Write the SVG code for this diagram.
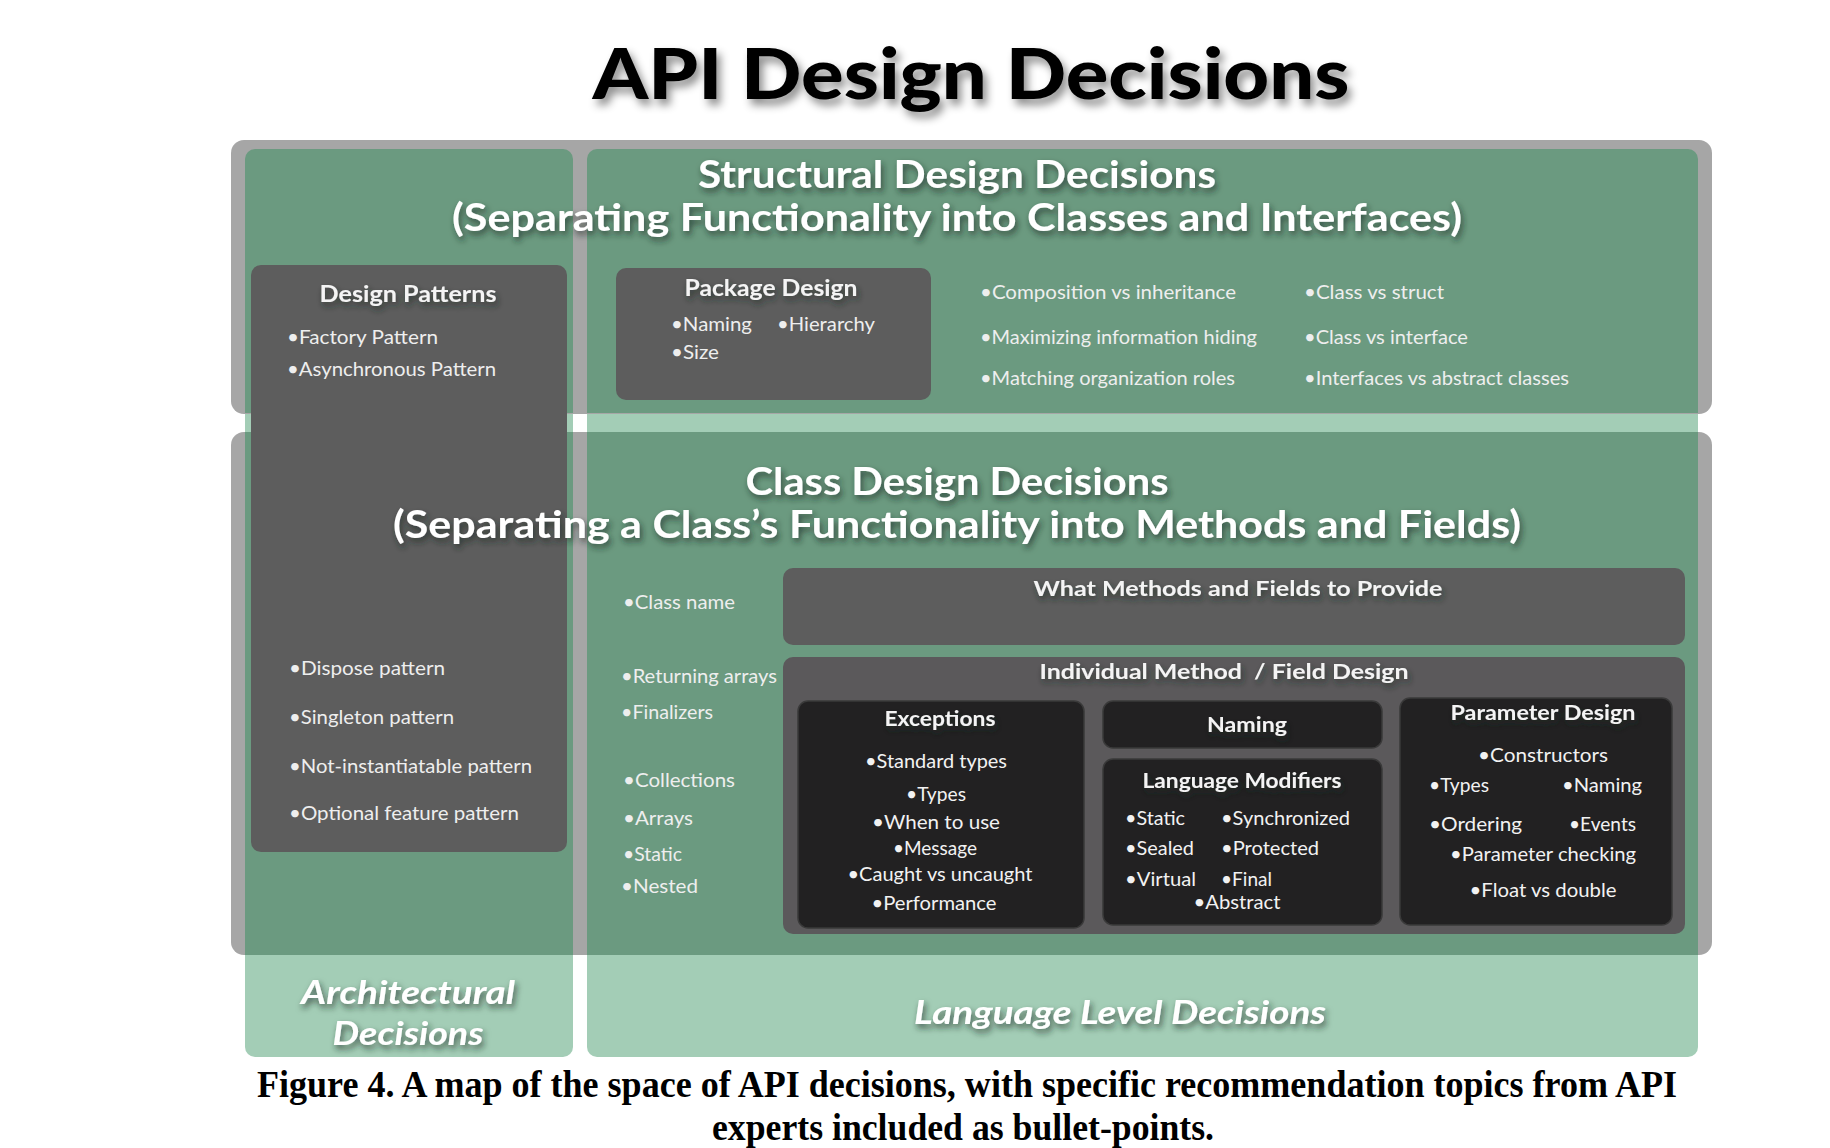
<svg xmlns="http://www.w3.org/2000/svg" width="1830" height="1148" viewBox="0 0 1830 1148">
<defs>
<filter id="tsh" x="-5%" y="-30%" width="115%" height="180%"><feDropShadow dx="4" dy="6" stdDeviation="4" flood-color="#000" flood-opacity="0.45"/></filter>
<filter id="sh" x="-10%" y="-40%" width="125%" height="200%"><feDropShadow dx="2" dy="4" stdDeviation="3" flood-color="#1a2a20" flood-opacity="0.7"/></filter>
<style>
.band{fill:#a6a6a6}
.col{fill:#a3cdb6}
.mid{fill:#6b9a80}
.dbox{fill:#5d5d5d}
.ibox{fill:#5b595b}
.kbox{fill:#222122;stroke:#3a3a3a;stroke-width:1.5}
.h{font-family:Lato,"Open Sans",sans-serif;font-weight:700;fill:#ffffff;filter:url(#sh)}
.t{font-family:Lato,"Open Sans",sans-serif;font-weight:700;fill:#f4f4f4;filter:url(#sh)}
.b{font-family:Lato,"Open Sans",sans-serif;font-weight:400;fill:#eeeeee;font-size:19px}
.k{font-family:Lato,"Open Sans",sans-serif;font-weight:400;fill:#f2f2f2;font-size:20px}
.i{font-family:Lato,"Open Sans",sans-serif;font-weight:700;font-style:italic;fill:#ffffff;font-size:33px;filter:url(#sh)}
.c{font-family:"Liberation Serif","Times New Roman",serif;font-weight:700;fill:#000;font-size:38px}
</style>
</defs>
<rect width="1830" height="1148" fill="#ffffff"/>

<g id="title">
<text x="971" y="99" text-anchor="middle" font-family="Lato, 'Open Sans', sans-serif" font-weight="900" font-size="70" fill="#000" filter="url(#tsh)" textLength="757" lengthAdjust="spacingAndGlyphs">API Design Decisions</text>
</g>

<g id="background">
<rect id="col-arch" class="col" x="245" y="149" width="328" height="908" rx="10"/>
<rect id="col-lang" class="col" x="587" y="149" width="1111" height="908" rx="10"/>
<rect class="band" x="231" y="140" width="1481" height="274" rx="13"/>
<rect class="band" x="231" y="432" width="1481" height="523" rx="13"/>
<path class="mid" d="M255,149 H563 A10,10 0 0 1 573,159 V413 H245 V159 A10,10 0 0 1 255,149 Z"/>
<path class="mid" d="M597,149 H1688 A10,10 0 0 1 1698,159 V413 H587 V159 A10,10 0 0 1 597,149 Z"/>
<rect class="mid" x="245" y="432" width="328" height="523"/>
<rect class="mid" x="587" y="432" width="1111" height="523"/>
</g>

<g id="structural">
<text class="h" x="957" y="188" text-anchor="middle" font-size="38" textLength="518" lengthAdjust="spacingAndGlyphs">Structural Design Decisions</text>
<text class="h" x="957" y="231" text-anchor="middle" font-size="38" textLength="1010" lengthAdjust="spacingAndGlyphs">(Separating Functionality into Classes and Interfaces)</text>
<text class="b" x="980" y="299" textLength="256" lengthAdjust="spacingAndGlyphs">•Composition vs inheritance</text>
<text class="b" x="980" y="344" textLength="277" lengthAdjust="spacingAndGlyphs">•Maximizing information hiding</text>
<text class="b" x="980" y="385" textLength="255" lengthAdjust="spacingAndGlyphs">•Matching organization roles</text>
<text class="b" x="1304" y="299" textLength="140" lengthAdjust="spacingAndGlyphs">•Class vs struct</text>
<text class="b" x="1304" y="344" textLength="164" lengthAdjust="spacingAndGlyphs">•Class vs interface</text>
<text class="b" x="1304" y="385" textLength="265" lengthAdjust="spacingAndGlyphs">•Interfaces vs abstract classes</text>
</g>

<g id="design-patterns">
<rect class="dbox" x="251" y="265" width="316" height="587" rx="10"/>
<text class="t" x="408" y="302" text-anchor="middle" font-size="22" textLength="177" lengthAdjust="spacingAndGlyphs">Design Patterns</text>
<text class="b" x="287" y="344" textLength="151" lengthAdjust="spacingAndGlyphs">•Factory Pattern</text>
<text class="b" x="287" y="376" textLength="209" lengthAdjust="spacingAndGlyphs">•Asynchronous Pattern</text>
<text class="b" x="289" y="675" textLength="156" lengthAdjust="spacingAndGlyphs">•Dispose pattern</text>
<text class="b" x="289" y="724" textLength="165" lengthAdjust="spacingAndGlyphs">•Singleton pattern</text>
<text class="b" x="289" y="773" textLength="243" lengthAdjust="spacingAndGlyphs">•Not-instantiatable pattern</text>
<text class="b" x="289" y="820" textLength="230" lengthAdjust="spacingAndGlyphs">•Optional feature pattern</text>
</g>

<g id="package-design">
<rect class="dbox" x="616" y="268" width="315" height="132" rx="10"/>
<text class="t" x="771" y="296" text-anchor="middle" font-size="22" textLength="173" lengthAdjust="spacingAndGlyphs">Package Design</text>
<text class="b" x="671" y="331" textLength="81" lengthAdjust="spacingAndGlyphs">•Naming</text>
<text class="b" x="777" y="331" textLength="98" lengthAdjust="spacingAndGlyphs">•Hierarchy</text>
<text class="b" x="671" y="359" textLength="48" lengthAdjust="spacingAndGlyphs">•Size</text>
</g>

<g id="class-design">
<text class="h" x="957" y="495" text-anchor="middle" font-size="38" textLength="423" lengthAdjust="spacingAndGlyphs">Class Design Decisions</text>
<text class="h" x="957" y="538" text-anchor="middle" font-size="38" textLength="1128" lengthAdjust="spacingAndGlyphs">(Separating a Class’s Functionality into Methods and Fields)</text>
<text class="b" x="623" y="609" textLength="112" lengthAdjust="spacingAndGlyphs">•Class name</text>
<text class="b" x="621" y="683" textLength="156" lengthAdjust="spacingAndGlyphs">•Returning arrays</text>
<text class="b" x="621" y="719" textLength="92" lengthAdjust="spacingAndGlyphs">•Finalizers</text>
<text class="b" x="623" y="787" textLength="112" lengthAdjust="spacingAndGlyphs">•Collections</text>
<text class="b" x="623" y="825" textLength="70" lengthAdjust="spacingAndGlyphs">•Arrays</text>
<text class="b" x="623" y="861" textLength="59" lengthAdjust="spacingAndGlyphs">•Static</text>
<text class="b" x="621" y="893" textLength="77" lengthAdjust="spacingAndGlyphs">•Nested</text>
</g>

<g id="what-methods">
<rect class="dbox" x="783" y="568" width="902" height="77" rx="10"/>
<text class="t" x="1238" y="596" text-anchor="middle" font-size="21" textLength="409" lengthAdjust="spacingAndGlyphs">What Methods and Fields to Provide</text>
</g>

<g id="individual-method">
<rect class="ibox" x="783" y="657" width="902" height="277" rx="10"/>
<text class="t" x="1224" y="679" text-anchor="middle" font-size="21" textLength="369" lengthAdjust="spacingAndGlyphs" xml:space="preserve">Individual Method  / Field Design</text>
</g>

<g id="exceptions">
<rect class="kbox" x="798" y="701" width="286" height="227" rx="10"/>
<text class="t" x="940" y="726" text-anchor="middle" font-size="21" textLength="111" lengthAdjust="spacingAndGlyphs">Exceptions</text>
<text class="k" x="936" y="768" text-anchor="middle" textLength="142" lengthAdjust="spacingAndGlyphs">•Standard types</text>
<text class="k" x="936" y="801" text-anchor="middle" textLength="60" lengthAdjust="spacingAndGlyphs">•Types</text>
<text class="k" x="936" y="829" text-anchor="middle" textLength="128" lengthAdjust="spacingAndGlyphs">•When to use</text>
<text class="k" x="935" y="855" text-anchor="middle" textLength="84" lengthAdjust="spacingAndGlyphs">•Message</text>
<text class="k" x="940" y="881" text-anchor="middle" textLength="185" lengthAdjust="spacingAndGlyphs">•Caught vs uncaught</text>
<text class="k" x="934" y="910" text-anchor="middle" textLength="125" lengthAdjust="spacingAndGlyphs">•Performance</text>
</g>

<g id="naming">
<rect class="kbox" x="1103" y="701" width="279" height="47" rx="10"/>
<text class="t" x="1247" y="732" text-anchor="middle" font-size="21" textLength="80" lengthAdjust="spacingAndGlyphs">Naming</text>
</g>

<g id="language-modifiers">
<rect class="kbox" x="1103" y="759" width="279" height="166" rx="10"/>
<text class="t" x="1242" y="788" text-anchor="middle" font-size="21" textLength="199" lengthAdjust="spacingAndGlyphs">Language Modifiers</text>
<text class="k" x="1125" y="825" textLength="60" lengthAdjust="spacingAndGlyphs">•Static</text>
<text class="k" x="1221" y="825" textLength="129" lengthAdjust="spacingAndGlyphs">•Synchronized</text>
<text class="k" x="1125" y="855" textLength="69" lengthAdjust="spacingAndGlyphs">•Sealed</text>
<text class="k" x="1221" y="855" textLength="98" lengthAdjust="spacingAndGlyphs">•Protected</text>
<text class="k" x="1125" y="886" textLength="71" lengthAdjust="spacingAndGlyphs">•Virtual</text>
<text class="k" x="1221" y="886" textLength="51" lengthAdjust="spacingAndGlyphs">•Final</text>
<text class="k" x="1237" y="909" text-anchor="middle" textLength="87" lengthAdjust="spacingAndGlyphs">•Abstract</text>
</g>

<g id="parameter-design">
<rect class="kbox" x="1400" y="698" width="272" height="227" rx="10"/>
<text class="t" x="1543" y="720" text-anchor="middle" font-size="21" textLength="185" lengthAdjust="spacingAndGlyphs">Parameter Design</text>
<text class="k" x="1543" y="762" text-anchor="middle" textLength="130" lengthAdjust="spacingAndGlyphs">•Constructors</text>
<text class="k" x="1429" y="792" textLength="60" lengthAdjust="spacingAndGlyphs">•Types</text>
<text class="k" x="1562" y="792" textLength="80" lengthAdjust="spacingAndGlyphs">•Naming</text>
<text class="k" x="1429" y="831" textLength="93" lengthAdjust="spacingAndGlyphs">•Ordering</text>
<text class="k" x="1569" y="831" textLength="67" lengthAdjust="spacingAndGlyphs">•Events</text>
<text class="k" x="1543" y="861" text-anchor="middle" textLength="186" lengthAdjust="spacingAndGlyphs">•Parameter checking</text>
<text class="k" x="1543" y="897" text-anchor="middle" textLength="147" lengthAdjust="spacingAndGlyphs">•Float vs double</text>
</g>

<g id="architectural">
<text class="i" x="408" y="1004" text-anchor="middle" textLength="214" lengthAdjust="spacingAndGlyphs">Architectural</text>
<text class="i" x="408" y="1045" text-anchor="middle" textLength="151" lengthAdjust="spacingAndGlyphs">Decisions</text>
</g>

<g id="language-level">
<text class="i" x="1120" y="1024" text-anchor="middle" textLength="412" lengthAdjust="spacingAndGlyphs">Language Level Decisions</text>
</g>

<g id="connectors"></g>

<g id="caption">
<text class="c" x="967" y="1097" text-anchor="middle" textLength="1420" lengthAdjust="spacingAndGlyphs">Figure 4. A map of the space of API decisions, with specific recommendation topics from API</text>
<text class="c" x="963" y="1140" text-anchor="middle" textLength="502" lengthAdjust="spacingAndGlyphs">experts included as bullet-points.</text>
</g>
</svg>
